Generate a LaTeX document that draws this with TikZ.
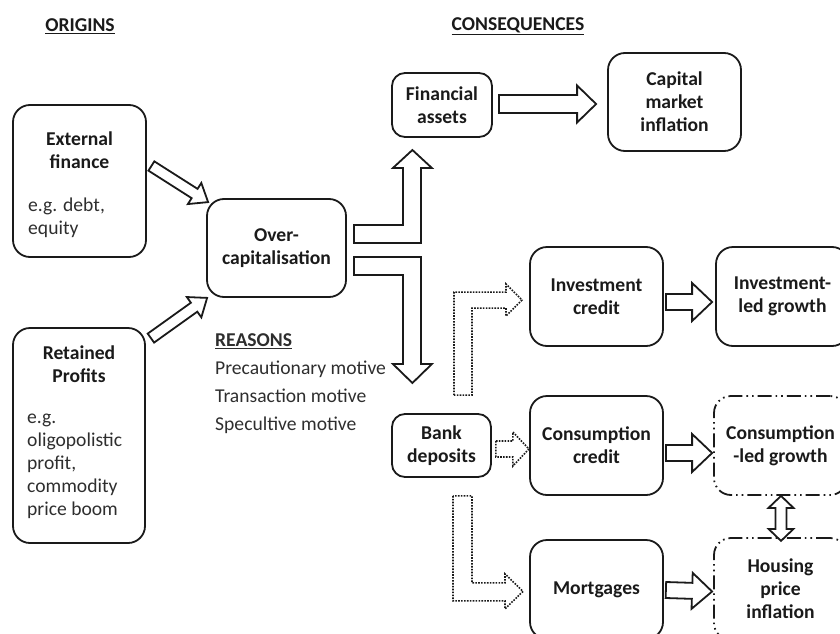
\documentclass[tikz,border=0pt]{standalone}
\usepackage{fontspec}
\setmainfont{Carlito}
\usetikzlibrary{calc}
\definecolor{ink}{HTML}{1A1A1A}
\definecolor{txt}{HTML}{2E2E2E}
% #1 options, #2 tail coordinate, #3 tip coordinate, #4 half shaft, #5 half head, #6 head length
\newcommand\blockarrow[6][]{%
  \coordinate (bahead) at ($(#3)!#6!(#2)$);
  \draw[blk,#1] ($(#2)!#4!90:(#3)$) -- ($(bahead)!#4!-90:(#2)$) -- ($(bahead)!#5!-90:(#2)$) -- (#3)
     -- ($(bahead)!#5!90:(#2)$) -- ($(bahead)!#4!90:(#2)$) -- ($(#2)!#4!-90:(#3)$) -- cycle;}
\begin{document}
\begin{tikzpicture}[x=1pt,y=-1pt,
  bfont/.style={font=\fontsize{19.6}{23}\selectfont\bfseries, text=ink},
  rfont/.style={font=\fontsize{19.6}{23}\selectfont, text=txt},
  box/.style={draw=ink, line width=1.8pt, rounded corners=17pt, inner sep=0pt, align=center, bfont},
  smallbox/.style={box, rounded corners=13pt},
  ddbox/.style={box, dash pattern=on 14pt off 4pt on 1.6pt off 4pt on 1.6pt off 4pt},
  blk/.style={draw=ink, line width=1.8pt, fill=white, line join=miter},
  dotblk/.style={draw=ink, line width=1.6pt, dash pattern=on 1.6pt off 1.3pt, fill=white, line join=miter}]
\useasboundingbox (0,0) rectangle (840,634);
\clip (0,0) rectangle (840,634);

% headings
\node[bfont] (orig) at (80,26) {\underline{ORIGINS}};
\node[bfont] (cons) at (518,26) {\underline{CONSEQUENCES}};

% origin boxes
\node[box, minimum width=133pt, minimum height=152pt] (ext) at (79.5,181) {};
\node[bfont, align=center] (extt) at (79.5,150) {External\\finance};
\node[rfont, anchor=west, align=left, inner sep=0pt] (exte) at (28,218) {e.g. debt,\\equity};

\node[box, minimum width=132pt, minimum height=215pt] (ret) at (79,435.5) {};
\node[bfont, align=center] (rett) at (79,364) {Retained\\Profits};
\node[rfont, anchor=west, align=left, inner sep=0pt] (rete) at (27,466) {e.g.\\oligopolistic\\profit,\\commodity\\price boom};

\node[box, minimum width=139pt, minimum height=98pt] (oc) at (276.5,248) {Over-\\capitalisation};

\node[rfont, font=\fontsize{19.6}{28}\selectfont, anchor=west, align=left, inner sep=0pt] (rsn) at (215,384)
  {\textbf{\underline{REASONS}}\\Precautionary motive\\Transaction motive\\Specultive motive};

% consequence boxes
\node[smallbox, minimum width=100pt, minimum height=64pt] (fa) at (442,105) {Financial\\assets};
\node[box, minimum width=133pt, minimum height=98pt] (cm) at (674.5,102) {Capital\\market\\inflation};
\node[box, minimum width=133pt, minimum height=99pt] (ic) at (596.5,296.5) {Investment\\credit};
\node[box, minimum width=133pt, minimum height=99pt] (ilg) at (782.5,296.5) {Investment-\\led growth};
\node[box, minimum width=133pt, minimum height=99pt] (cc) at (596.5,445.5) {Consumption\\credit};
\node[ddbox, minimum width=133pt, minimum height=99pt] (clg) at (780.5,445.5) {Consumption\\-led growth};
\node[smallbox, minimum width=99pt, minimum height=63pt] (bd) at (441.5,445.5) {Bank\\deposits};
\node[box, minimum width=133pt, minimum height=99pt] (mo) at (596.5,589.5) {Mortgages};
\node[ddbox, minimum width=133pt, minimum height=102pt] (hpi) at (780.5,589) {Housing\\price\\inflation};

% diagonal block arrows into over-capitalisation
\coordinate (a1t) at ($(ext.east)+(4.5,-15)$);
\coordinate (a1h) at ($(oc.north west)+(2,4)$);
\blockarrow{a1t}{a1h}{5.5pt}{12.5pt}{16pt}
\coordinate (a2t) at ($(ret.north east)+(5,11)$);
\coordinate (a2h) at ($(oc.south west)+(1,0)$);
\blockarrow{a2t}{a2h}{5.5pt}{12.5pt}{16pt}

% L-shaped block arrows out of over-capitalisation
\draw[blk] ($(oc.east)+(7,-23)$) -- ++(49,0) -- ++(0,-57) -- ++(-10,0) -- ++(19.5,-18) -- ++(19.5,18)
  -- ++(-11,0) -- ++(0,75) -- ++(-67,0) -- cycle;
\draw[blk] ($(oc.east)+(7,9)$) -- ++(67,0) -- ++(0,107) -- ++(11,0) -- ++(-19.5,19) -- ++(-19.5,-19)
  -- ++(10,0) -- ++(0,-89) -- ++(-49,0) -- cycle;

% horizontal block arrows
\coordinate (a3t) at ($(fa.east)+(6,-1)$);
\coordinate (a3h) at ($(cm.west)+(-11,2)$);
\blockarrow{a3t}{a3h}{9pt}{18.5pt}{19pt}
\coordinate (a4t) at ($(ic.east)+(2,5.5)$);
\coordinate (a4h) at ($(ilg.west)+(-3,5.5)$);
\blockarrow{a4t}{a4h}{8pt}{19pt}{20pt}
\coordinate (a5t) at ($(cc.east)+(2,7.5)$);
\coordinate (a5h) at ($(clg.west)+(-1,7.5)$);
\blockarrow{a5t}{a5h}{8pt}{19pt}{20pt}
\coordinate (a6t) at ($(mo.east)+(2,0.5)$);
\coordinate (a6h) at ($(hpi.west)+(-1,2.5)$);
\blockarrow{a6t}{a6h}{8pt}{18pt}{20pt}

% double arrow between consumption-led growth and housing price inflation
\draw[blk] ($(clg.south)+(0.5,0)$) -- ++(12.5,12) -- ++(-7,0) -- ++(0,21) -- ++(7,0) -- ++(-12.5,12)
  -- ++(-12.5,-12) -- ++(7,0) -- ++(0,-21) -- ++(-7,0) -- cycle;

% dotted arrows from bank deposits
\draw[dotblk] ($(bd.north)+(12.5,-18)$) -- ++(0,-103) -- ++(52,0) -- ++(0,-8) -- ++(16,16) -- ++(-16,16)
  -- ++(0,-8) -- ++(-34,0) -- ++(0,87) -- cycle;
\draw[dotblk] ($(bd.east)+(4,-4.5)$) -- ++(17,0) -- ++(0,-9) -- ++(16,17) -- ++(-16,17) -- ++(0,-9)
  -- ++(-17,0) -- cycle;
\draw[dotblk] ($(bd.south)+(11.5,18)$) -- ++(0,105) -- ++(52,0) -- ++(0,8) -- ++(18,-17.5) -- ++(-18,-17.5)
  -- ++(0,9) -- ++(-33,0) -- ++(0,-87) -- cycle;
\end{tikzpicture}
\end{document}
